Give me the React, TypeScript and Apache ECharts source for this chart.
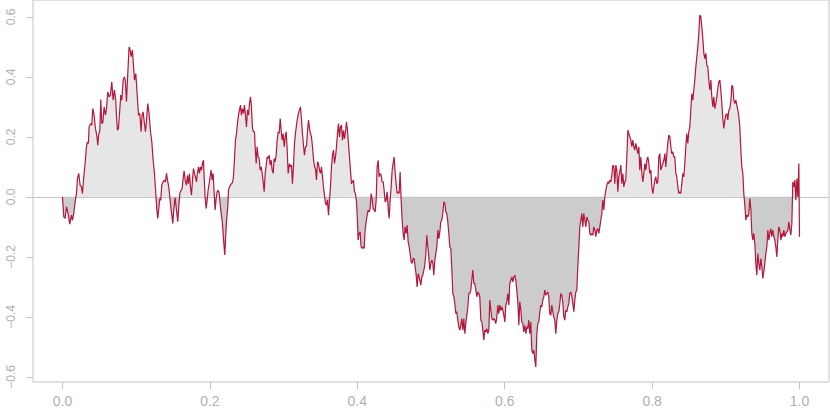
import React, { useEffect, useRef } from "react";
import * as echarts from "echarts";

// Brownian-bridge style path: [t, value]
const seg1: [number, number][] = [
  [0, 0], [0.0018, -0.067], [0.0036, -0.072], [0.0054, -0.033], [0.0076, -0.056], [0.0099, -0.091], [0.0122, -0.061], [0.0135, -0.078], [0.0153, -0.056], [0.0171, -0.017],
  [0.019, 0.011], [0.0203, 0.061], [0.0221, 0.078], [0.0239, 0.039], [0.0257, 0.033], [0.0271, 0.011], [0.0289, 0.067], [0.0307, 0.111], [0.0325, 0.167], [0.0339, 0.183],
  [0.0352, 0.178], [0.0361, 0.233], [0.038, 0.244], [0.0398, 0.239], [0.0411, 0.294], [0.0429, 0.272], [0.0447, 0.228], [0.0465, 0.206], [0.0479, 0.172], [0.0493, 0.211],
  [0.0506, 0.217], [0.052, 0.324], [0.0533, 0.244], [0.0547, 0.247], [0.0565, 0.3], [0.0583, 0.272], [0.0597, 0.294], [0.0615, 0.35], [0.0633, 0.333], [0.0651, 0.339],
  [0.0669, 0.383], [0.0687, 0.322], [0.0705, 0.356], [0.0723, 0.322], [0.0732, 0.272], [0.0746, 0.222], [0.0759, 0.228], [0.0777, 0.289], [0.0791, 0.339], [0.0805, 0.322],
  [0.0823, 0.389], [0.0841, 0.4], [0.0854, 0.383], [0.0868, 0.317], [0.0886, 0.411], [0.0904, 0.5], [0.0918, 0.489], [0.0931, 0.467], [0.0949, 0.489], [0.0963, 0.439],
  [0.0977, 0.389], [0.0995, 0.411], [0.1013, 0.344], [0.1031, 0.272], [0.1049, 0.278], [0.1067, 0.217], [0.108, 0.272], [0.1094, 0.283], [0.1112, 0.244], [0.1126, 0.217],
  [0.1139, 0.25], [0.1157, 0.311], [0.1175, 0.278], [0.1194, 0.217], [0.1212, 0.183], [0.123, 0.122], [0.1248, 0.078], [0.1266, 0.011], [0.128, -0.044], [0.1293, -0.072],
];

const seg2: [number, number][] = [
  [0.132, -0.006], [0.1334, -0.011], [0.1347, 0.039], [0.1365, 0.05], [0.1383, 0.056], [0.1397, 0.05], [0.1411, 0.078], [0.1429, 0.05], [0.1442, 0.033], [0.1456, 0.0],
  [0.1469, -0.033], [0.1483, -0.061], [0.1497, -0.089], [0.151, -0.044], [0.1528, -0.002], [0.1546, -0.044], [0.1564, -0.083], [0.1578, -0.033], [0.1592, 0.011], [0.161, 0.022],
  [0.1623, 0.028], [0.1637, 0.061], [0.165, 0.087], [0.1664, 0.056], [0.1682, 0.039], [0.1696, 0.072], [0.1709, 0.044], [0.1723, 0.078], [0.1736, 0.033], [0.175, 0.006],
  [0.1764, 0.056], [0.1777, 0.094], [0.1791, 0.078], [0.1804, 0.067], [0.1818, 0.05], [0.1831, 0.078], [0.1845, 0.1], [0.1859, 0.078], [0.1872, 0.1], [0.1886, 0.089],
  [0.1899, 0.111], [0.1913, 0.122], [0.1922, 0.067], [0.1935, 0.0], [0.1949, -0.039], [0.1963, -0.011], [0.1976, 0.022], [0.199, 0.044], [0.2003, 0.067], [0.2017, 0.089],
  [0.203, 0.056], [0.2044, 0.078], [0.2058, 0.011], [0.2071, -0.044], [0.2085, -0.006], [0.2098, 0.017], [0.2112, 0.022], [0.2126, 0.011], [0.2139, -0.022], [0.2153, -0.056],
  [0.2166, -0.078], [0.218, -0.122], [0.2193, -0.167], [0.2202, -0.194], [0.2216, -0.122], [0.223, -0.067], [0.2243, -0.033], [0.2252, 0.022], [0.2266, 0.033], [0.2279, 0.039],
  [0.2293, 0.044], [0.2306, 0.047], [0.232, 0.067], [0.2334, 0.128], [0.2347, 0.189], [0.2361, 0.211], [0.2374, 0.244], [0.2388, 0.272], [0.2401, 0.289], [0.2415, 0.306],
  [0.2428, 0.272], [0.2442, 0.294], [0.2456, 0.278], [0.2469, 0.306], [0.2483, 0.272], [0.2496, 0.233], [0.251, 0.289], [0.2524, 0.272], [0.2537, 0.311], [0.2551, 0.333],
  [0.2564, 0.3], [0.2578, 0.228], [0.2591, 0.217], [0.2605, 0.217], [0.2614, 0.167], [0.2628, 0.111], [0.2641, 0.167], [0.2655, 0.133], [0.2669, 0.128], [0.2682, 0.089],
  [0.2696, 0.1], [0.2709, 0.078], [0.2723, 0.05], [0.2737, 0.017], [0.275, 0.078], [0.2764, 0.106], [0.2777, 0.133], [0.2791, 0.128], [0.2804, 0.139], [0.2818, 0.106],
  [0.2832, 0.122], [0.2845, 0.089], [0.2859, 0.078], [0.2872, 0.128], [0.2886, 0.117], [0.2899, 0.139], [0.2913, 0.189], [0.2927, 0.217], [0.294, 0.211], [0.2954, 0.261],
  [0.2967, 0.222], [0.2981, 0.189], [0.2994, 0.211], [0.3008, 0.167], [0.3022, 0.2], [0.3035, 0.217], [0.3049, 0.156], [0.3062, 0.078],
];

const seg3: [number, number][] = [
  [0.308, 0.111], [0.3093, 0.1], [0.3107, 0.106], [0.312, 0.044], [0.3134, 0.1], [0.3148, 0.178], [0.3161, 0.211], [0.3175, 0.239], [0.3188, 0.261], [0.3202, 0.278],
  [0.3215, 0.289], [0.3229, 0.3], [0.3243, 0.256], [0.3256, 0.211], [0.327, 0.172], [0.3283, 0.139], [0.3297, 0.167], [0.331, 0.167], [0.3324, 0.217], [0.3338, 0.256],
  [0.3351, 0.228], [0.3365, 0.211], [0.3378, 0.2], [0.3392, 0.167], [0.3405, 0.128], [0.3419, 0.1], [0.3433, 0.094], [0.3446, 0.056], [0.346, 0.117], [0.3473, 0.111],
  [0.3487, 0.089], [0.35, 0.078], [0.3514, 0.1], [0.3528, 0.067], [0.3541, 0.033], [0.3555, 0.006], [0.3568, -0.022], [0.3582, -0.028], [0.3595, -0.011], [0.3609, -0.061],
  [0.3623, -0.011], [0.3636, 0.033], [0.365, 0.1], [0.3663, 0.139], [0.3677, 0.156], [0.369, 0.111], [0.3704, 0.133], [0.3718, 0.167], [0.3731, 0.211], [0.3745, 0.244],
  [0.3758, 0.2], [0.3772, 0.233], [0.3785, 0.239], [0.3799, 0.189], [0.3813, 0.222], [0.3826, 0.194], [0.384, 0.217], [0.3853, 0.25], [0.3867, 0.222], [0.388, 0.178],
  [0.3894, 0.133], [0.3907, 0.089], [0.3921, 0.044], [0.3935, 0.05], [0.3948, 0.056], [0.3962, 0.017], [0.3975, 0.011], [0.3989, -0.017], [0.4002, -0.078], [0.4011, -0.144],
  [0.4025, -0.122], [0.4039, -0.117], [0.4052, -0.167], [0.4066, -0.172], [0.4079, -0.167], [0.4093, -0.172], [0.4106, -0.111], [0.412, -0.083], [0.4134, -0.061], [0.4147, -0.044],
  [0.4161, -0.05], [0.4174, -0.039], [0.4188, 0.011], [0.4201, -0.006], [0.4215, -0.039], [0.4229, -0.044], [0.4242, -0.05], [0.4256, -0.011], [0.4269, 0.1], [0.4283, 0.122],
  [0.4296, 0.067], [0.431, 0.078], [0.4324, 0.072], [0.4337, 0.05], [0.4351, 0.05], [0.4364, 0.022], [0.4378, -0.017], [0.4391, -0.011], [0.4405, 0.017], [0.4419, -0.039],
  [0.4432, -0.072], [0.4446, -0.011], [0.4459, 0.033], [0.4473, 0.089], [0.4486, 0.111], [0.45, 0.133], [0.4514, 0.078], [0.4527, 0.044], [0.4541, 0.011], [0.4554, 0.017],
  [0.4568, 0.011], [0.4581, 0.083], [0.4595, -0.011], [0.4609, -0.078], [0.4622, -0.122], [0.4636, -0.144], [0.4649, -0.1], [0.4663, -0.122], [0.4676, -0.094], [0.469, -0.15],
  [0.4704, -0.167], [0.4717, -0.189], [0.4731, -0.217], [0.4744, -0.222], [0.4758, -0.206], [0.4771, -0.206], [0.4785, -0.233], [0.4799, -0.261], [0.4812, -0.3], [0.4826, -0.256],
  [0.4839, -0.267],
];

const seg4: [number, number][] = [
  [0.4862, -0.294], [0.4876, -0.267], [0.4889, -0.261], [0.4903, -0.244], [0.4916, -0.228], [0.493, -0.189], [0.4943, -0.128], [0.4957, -0.167], [0.497, -0.2], [0.4984, -0.244],
  [0.4998, -0.222], [0.5011, -0.211], [0.5025, -0.222], [0.5038, -0.261], [0.5052, -0.211], [0.5065, -0.189], [0.5079, -0.167], [0.5093, -0.111], [0.5106, -0.139], [0.512, -0.117],
  [0.5133, -0.083], [0.5147, -0.078], [0.516, -0.056], [0.5174, -0.017], [0.5188, -0.022], [0.5201, -0.05], [0.5215, -0.056], [0.5228, -0.083], [0.5242, -0.122], [0.5255, -0.167],
  [0.5269, -0.172], [0.5283, -0.244], [0.5296, -0.322], [0.531, -0.333], [0.5323, -0.356], [0.5337, -0.389], [0.535, -0.383], [0.5364, -0.411], [0.5377, -0.433], [0.5391, -0.444],
  [0.5405, -0.428], [0.5418, -0.406], [0.5432, -0.444], [0.5445, -0.406], [0.5459, -0.456], [0.5472, -0.422], [0.5486, -0.394], [0.55, -0.367], [0.5513, -0.322], [0.5527, -0.322],
  [0.554, -0.311], [0.5554, -0.278], [0.5567, -0.244], [0.5581, -0.289], [0.5595, -0.289], [0.5608, -0.311], [0.5622, -0.333], [0.5635, -0.317], [0.5649, -0.322], [0.5662, -0.333],
  [0.5676, -0.411], [0.569, -0.417], [0.5703, -0.444], [0.5717, -0.478], [0.573, -0.444], [0.5744, -0.45], [0.5757, -0.439], [0.5771, -0.456], [0.5785, -0.444], [0.5798, -0.344],
  [0.5812, -0.378], [0.5825, -0.406], [0.5839, -0.411], [0.5852, -0.406], [0.5866, -0.411], [0.588, -0.422], [0.5893, -0.4], [0.5907, -0.361], [0.592, -0.389], [0.5934, -0.361],
  [0.5947, -0.378], [0.5961, -0.367], [0.5975, -0.378], [0.5988, -0.394], [0.6002, -0.417], [0.6015, -0.361], [0.6029, -0.35], [0.6042, -0.322], [0.6056, -0.361], [0.6069, -0.289],
  [0.6083, -0.278], [0.6097, -0.267], [0.611, -0.283], [0.6124, -0.267], [0.6137, -0.261], [0.6151, -0.278], [0.6164, -0.311], [0.6178, -0.35], [0.6192, -0.428], [0.6205, -0.35],
  [0.6219, -0.378], [0.6232, -0.417], [0.6246, -0.422], [0.6259, -0.45], [0.6273, -0.428], [0.6287, -0.456], [0.63, -0.433], [0.6314, -0.439], [0.6327, -0.411], [0.6341, -0.456],
  [0.6354, -0.417], [0.6368, -0.511], [0.6382, -0.522], [0.6395, -0.511], [0.6409, -0.544], [0.6422, -0.567], [0.6436, -0.456], [0.6449, -0.422], [0.6463, -0.417], [0.6477, -0.383],
];

const seg5: [number, number][] = [
  [0.649, -0.361], [0.6503, -0.367], [0.6517, -0.344], [0.6531, -0.333], [0.6544, -0.311], [0.6558, -0.328], [0.6571, -0.322], [0.6585, -0.317], [0.6598, -0.333], [0.6612, -0.389],
  [0.6626, -0.394], [0.6639, -0.361], [0.6653, -0.383], [0.6666, -0.4], [0.668, -0.411], [0.6693, -0.456], [0.6707, -0.411], [0.6721, -0.389], [0.6734, -0.383], [0.6748, -0.356],
  [0.6761, -0.322], [0.6775, -0.328], [0.6788, -0.35], [0.6802, -0.4], [0.6816, -0.411], [0.6829, -0.378], [0.6843, -0.383], [0.6856, -0.367], [0.687, -0.356], [0.6883, -0.322],
  [0.6897, -0.317], [0.6911, -0.333], [0.6924, -0.356], [0.6938, -0.383], [0.6951, -0.344], [0.6965, -0.317], [0.6978, -0.311], [0.6992, -0.233], [0.7006, -0.167], [0.7019, -0.1],
  [0.7033, -0.078], [0.7046, -0.056], [0.706, -0.1], [0.7073, -0.056], [0.7087, -0.078], [0.7101, -0.1], [0.7114, -0.067], [0.7128, -0.078], [0.7141, -0.083], [0.7155, -0.122],
  [0.7168, -0.128], [0.7182, -0.122], [0.7196, -0.128], [0.7209, -0.1], [0.7223, -0.111], [0.7236, -0.133], [0.725, -0.111], [0.7263, -0.106], [0.7277, -0.122], [0.7291, -0.1],
  [0.7304, -0.078], [0.7318, -0.056], [0.7331, -0.011], [0.7345, -0.044], [0.7358, 0.0], [0.7372, 0.022], [0.7386, 0.039], [0.7399, 0.05], [0.7413, 0.044], [0.7426, 0.056],
  [0.744, 0.05], [0.7453, 0.072], [0.7467, 0.106], [0.7481, 0.1], [0.7494, 0.044], [0.7508, 0.106], [0.7521, 0.089], [0.7535, 0.017], [0.7548, 0.067], [0.7562, 0.083],
  [0.7576, 0.106], [0.7589, 0.044], [0.7603, 0.078], [0.7616, 0.033], [0.763, 0.05], [0.7643, 0.056], [0.7657, 0.133], [0.7671, 0.222], [0.7684, 0.211], [0.7698, 0.2],
  [0.7711, 0.189], [0.7725, 0.167], [0.7738, 0.189], [0.7752, 0.167], [0.7766, 0.156], [0.7779, 0.178], [0.7793, 0.161], [0.7806, 0.144], [0.782, 0.167], [0.7833, 0.089],
  [0.7847, 0.133], [0.7861, 0.078], [0.7874, 0.05], [0.7888, 0.078], [0.7901, 0.111], [0.7915, 0.089], [0.7928, 0.122], [0.7942, 0.133], [0.7956, 0.111], [0.7969, 0.078],
  [0.7983, 0.089], [0.7996, 0.033], [0.801, 0.011], [0.8023, 0.033], [0.8037, 0.056], [0.8051, 0.067], [0.8064, 0.044], [0.8078, 0.05], [0.8091, 0.133], [0.8105, 0.144],
  [0.8118, 0.089], [0.8132, 0.1], [0.8146, 0.111], [0.8159, 0.122], [0.8173, 0.144], [0.8186, 0.1], [0.82, 0.144], [0.8213, 0.178], [0.8227, 0.206], [0.8241, 0.2],
];

const seg6: [number, number][] = [
  [0.8254, 0.167], [0.8267, 0.144], [0.8281, 0.15], [0.8294, 0.133], [0.8308, 0.133], [0.8322, 0.078], [0.8335, 0.067], [0.8349, 0.033], [0.8362, 0.011], [0.8376, 0.017],
  [0.8389, 0.011], [0.8403, 0.044], [0.8417, 0.078], [0.843, 0.067], [0.8444, 0.111], [0.8457, 0.167], [0.8471, 0.211], [0.8484, 0.178], [0.8498, 0.217], [0.8512, 0.233],
  [0.8525, 0.289], [0.8539, 0.344], [0.8552, 0.322], [0.8566, 0.356], [0.8579, 0.389], [0.8593, 0.433], [0.8607, 0.467], [0.862, 0.5], [0.8634, 0.544], [0.8647, 0.606],
  [0.8661, 0.6], [0.8674, 0.567], [0.8688, 0.528], [0.8702, 0.478], [0.8715, 0.461], [0.8729, 0.478], [0.8742, 0.439], [0.8756, 0.433], [0.8769, 0.389], [0.8783, 0.356],
  [0.8797, 0.389], [0.881, 0.333], [0.8824, 0.3], [0.8837, 0.333], [0.8851, 0.294], [0.8864, 0.311], [0.8878, 0.333], [0.8892, 0.361], [0.8905, 0.383], [0.8919, 0.389],
  [0.8932, 0.356], [0.8946, 0.311], [0.8959, 0.261], [0.8973, 0.228], [0.8987, 0.256], [0.9, 0.272], [0.9014, 0.278], [0.9027, 0.256], [0.9041, 0.289], [0.9054, 0.294],
  [0.9068, 0.317], [0.9082, 0.372], [0.9095, 0.367], [0.9109, 0.322], [0.9122, 0.311], [0.9136, 0.322], [0.9149, 0.306], [0.9163, 0.289], [0.9177, 0.267], [0.919, 0.233],
  [0.9204, 0.156], [0.9217, 0.1], [0.9231, 0.078], [0.9244, 0.011], [0.9258, -0.028], [0.9272, -0.078], [0.9285, -0.061], [0.9299, -0.067], [0.9312, -0.056], [0.9326, -0.006],
  [0.9339, -0.039], [0.9353, -0.122], [0.9367, -0.144], [0.938, -0.122], [0.9394, -0.156], [0.9407, -0.222], [0.9421, -0.261], [0.9434, -0.189], [0.9448, -0.222], [0.9462, -0.244],
  [0.9475, -0.206], [0.9489, -0.233], [0.9502, -0.272], [0.9516, -0.25], [0.9529, -0.222], [0.9543, -0.189], [0.9557, -0.167], [0.957, -0.111], [0.9584, -0.144], [0.9597, -0.122],
  [0.9611, -0.106], [0.9624, -0.133], [0.9638, -0.111], [0.9652, -0.133], [0.9665, -0.144], [0.9679, -0.167], [0.9692, -0.2], [0.9706, -0.144], [0.9719, -0.1], [0.9733, -0.111],
  [0.9747, -0.144], [0.976, -0.122], [0.9774, -0.133], [0.9787, -0.111], [0.9801, -0.133], [0.9814, -0.122], [0.9828, -0.117], [0.9842, -0.111], [0.9855, -0.083], [0.9869, -0.111],
  [0.9882, -0.128], [0.9896, -0.089], [0.9909, 0.05], [0.9923, 0.033], [0.9937, 0.056], [0.995, -0.011], [0.9964, 0.061], [0.9977, 0.0], [0.9991, 0.111], [0.9995, -0.011],
  [1.0, -0.133],
];

const xTicks = [0, 0.2, 0.4, 0.6, 0.8, 1.0];
const yTicks = [-0.6, -0.4, -0.2, 0, 0.2, 0.4, 0.6];

const LINE_COLOR = "#b3173d";
const POS_FILL = "#e6e6e6";
const NEG_FILL = "#cccccc";
const AXIS_GREY = "#c4c4c4";
const LABEL_GREY = "#b0b0b0";
const FONT = "'Liberation Sans', Arial, Helvetica, sans-serif";

const fmt = (v: number) => {
  const r = Math.round(v * 10) / 10;
  return r < 0 ? "\u2212" + Math.abs(r).toFixed(1) : r.toFixed(1);
};

export default function App() {
  const ref = useRef<HTMLDivElement>(null);

  useEffect(() => {
    if (!ref.current) return;
    const chart = echarts.init(ref.current, undefined, { renderer: "svg" });
    const path = [...seg1, ...seg2, ...seg3, ...seg4, ...seg5, ...seg6];
    const pos = path.map(([t, w]) => [t, Math.max(w, 0)]);
    const neg = path.map(([t, w]) => [t, Math.min(w, 0)]);

    chart.setOption({
      animation: false,
      grid: {
        left: 33,
        right: 1,
        top: 0,
        bottom: 33,
        show: true,
        borderColor: AXIS_GREY,
        borderWidth: 1,
        backgroundColor: "transparent",
      },
      xAxis: {
        type: "value",
        min: -0.04,
        max: 1.04,
        position: "bottom",
        axisLine: { show: false, onZero: false },
        splitLine: { show: false },
        axisTick: {
          show: true,
          customValues: xTicks,
          length: 7,
          lineStyle: { color: AXIS_GREY, width: 1 },
        },
        axisLabel: {
          customValues: xTicks,
          formatter: fmt,
          color: LABEL_GREY,
          fontSize: 14,
          fontFamily: FONT,
          margin: 12,
        },
      },
      yAxis: {
        type: "value",
        min: -0.617,
        max: 0.656,
        position: "left",
        axisLine: { show: false, onZero: false },
        splitLine: { show: false },
        axisTick: {
          show: true,
          customValues: yTicks,
          length: 7,
          lineStyle: { color: AXIS_GREY, width: 1 },
        },
        axisLabel: {
          customValues: yTicks,
          formatter: fmt,
          color: LABEL_GREY,
          fontSize: 12,
          fontFamily: FONT,
          rotate: 90,
          margin: 16,
        },
      },
      series: [
        {
          type: "line",
          data: pos,
          showSymbol: false,
          silent: true,
          lineStyle: { width: 0, opacity: 0 },
          areaStyle: { color: POS_FILL, opacity: 1 },
          z: 1,
        },
        {
          type: "line",
          data: neg,
          showSymbol: false,
          silent: true,
          lineStyle: { width: 0, opacity: 0 },
          areaStyle: { color: NEG_FILL, opacity: 1 },
          z: 1,
          markLine: {
            silent: true,
            symbol: "none",
            label: { show: false },
            lineStyle: { color: AXIS_GREY, type: "solid", width: 1 },
            data: [{ yAxis: 0 }],
            z: 2,
          },
        },
        {
          type: "line",
          data: path,
          showSymbol: false,
          silent: true,
          lineStyle: { color: LINE_COLOR, width: 1.2 },
          z: 3,
        },
      ],
    });

    return () => chart.dispose();
  }, []);

  return <div ref={ref} style={{ width: 830, height: 415, position: "absolute", left: 0, top: 0 }} />;
}
